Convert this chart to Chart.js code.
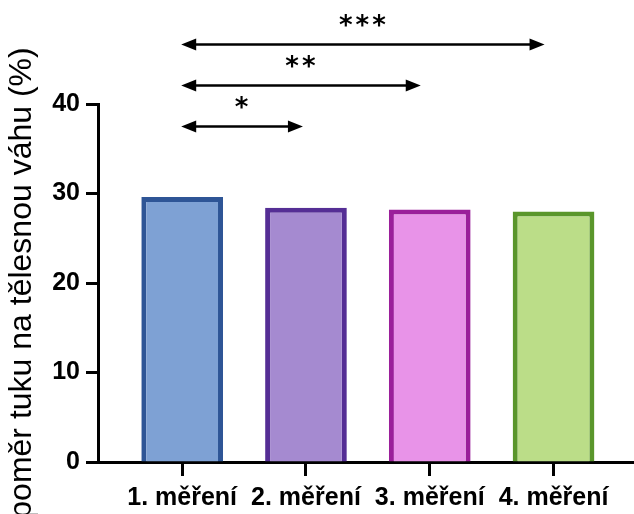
<!DOCTYPE html>
<html>
<head>
<meta charset="utf-8">
<script src="https://cdn.jsdelivr.net/npm/chart.js@4"></script>
<style>
  body { margin: 0; background: #fff; }
  #wrap { width: 634px; height: 514px; }
</style>
</head>
<body>
<div id="wrap"><canvas id="fatChart" width="634" height="514"></canvas></div>
<script>
// values
const categories = ['1. měření', '2. měření', '3. měření', '4. měření'];
const fatRatio = [29.6, 28.4, 28.2, 28.0];
const yTicks = [0, 10, 20, 30, 40];

// significance brackets: from group, to group, label
const compFrom = [1, 1, 1];
const compTo = [2, 3, 4];
const compLabel = ['*', '**', '***'];

const fillColors = ['#7ea1d4', '#a58ad0', '#e893e8', '#bbdd88'];
const edgeColors = ['#2e5596', '#552e95', '#9a1f9a', '#5a962b'];

const FONT = '"Liberation Sans", Arial, sans-serif';

// draws the arrows with stars above the bars
const bracketPlugin = {
    id: 'brackets',
    afterDraw(chart) {
        const ctx = chart.ctx;
        const xs = chart.scales.x;
        const ys = chart.scales.y;
        ctx.save();
        ctx.strokeStyle = '#000';
        ctx.fillStyle = '#000';
        ctx.lineWidth = 2.6;
        compFrom.forEach((from, i) => {
            const x1 = xs.getPixelForValue(from) - 1;
            const x2 = xs.getPixelForValue(compTo[i]) - (i === 0 ? 3 : 9);
            const y = Math.round(ys.getPixelForValue(37.5 + i * 4.6)) + 0.5;
            const head = 15, half = 6;
            ctx.beginPath();
            ctx.moveTo(x1 + head - 2, y);
            ctx.lineTo(x2 - head + 2, y);
            ctx.stroke();
            ctx.beginPath();
            ctx.moveTo(x1, y);
            ctx.lineTo(x1 + head, y - half);
            ctx.lineTo(x1 + head, y + half);
            ctx.closePath();
            ctx.fill();
            ctx.beginPath();
            ctx.moveTo(x2, y);
            ctx.lineTo(x2 - head, y - half);
            ctx.lineTo(x2 - head, y + half);
            ctx.closePath();
            ctx.fill();

            ctx.font = 'bold 26px "DejaVu Sans", sans-serif';
            ctx.letterSpacing = '3px';
            ctx.textAlign = 'center';
            ctx.textBaseline = 'middle';
            ctx.fillText(compLabel[i], (x1 + x2) / 2 + 1, y - 17);
        });
        ctx.restore();
    }
};

const ctx = document.getElementById('fatChart').getContext('2d');
new Chart(ctx, {
    type: 'bar',
    data: {
        datasets: [{
            data: fatRatio.map((v, i) => ({ x: i + 1, y: v })),
            backgroundColor: fillColors,
            borderColor: edgeColors,
            borderWidth: 5,
            borderSkipped: 'start',
            barPercentage: 0.66,
            categoryPercentage: 1
        }]
    },
    options: {
        responsive: false,
        animation: false,
        layout: { padding: { top: 104, right: 0, left: 0, bottom: 0 } },
        plugins: {
            legend: { display: false },
            tooltip: { enabled: false }
        },
        scales: {
            x: {
                type: 'linear',
                offset: false,
                min: 0.32,
                max: 4.65,
                afterBuildTicks: (scale) => {
                    scale.ticks = categories.map((c, i) => ({ value: i + 1 }));
                },
                afterFit: (scale) => { scale.height = 52; },
                grid: {
                    offset: false,
                    drawOnChartArea: false,
                    drawTicks: true,
                    tickLength: 14,
                    tickWidth: 3,
                    tickColor: '#000'
                },
                border: { display: true, color: '#000', width: 3 },
                ticks: {
                    autoSkip: false,
                    maxRotation: 0,
                    padding: 7,
                    color: '#000',
                    font: { family: FONT, size: 25, weight: 'bold' },
                    callback: (v) => categories[v - 1]
                }
            },
            y: {
                min: 0,
                max: 40,
                afterBuildTicks: (scale) => {
                    scale.ticks = yTicks.map(v => ({ value: v }));
                },
                afterFit: (scale) => { scale.width = 98; },
                grid: {
                    drawOnChartArea: false,
                    tickLength: 12,
                    tickWidth: 3,
                    tickColor: '#000'
                },
                border: { display: true, color: '#000', width: 3 },
                ticks: {
                    padding: 6,
                    color: '#000',
                    font: { family: FONT, size: 25, weight: 'bold' }
                },
                title: {
                    display: true,
                    text: 'poměr tuku na tělesnou váhu (%)',
                    color: '#000',
                    padding: { top: 3, bottom: 0 },
                    font: { family: FONT, size: 32 }
                }
            }
        }
    },
    plugins: [bracketPlugin]
});
</script>
</body>
</html>
